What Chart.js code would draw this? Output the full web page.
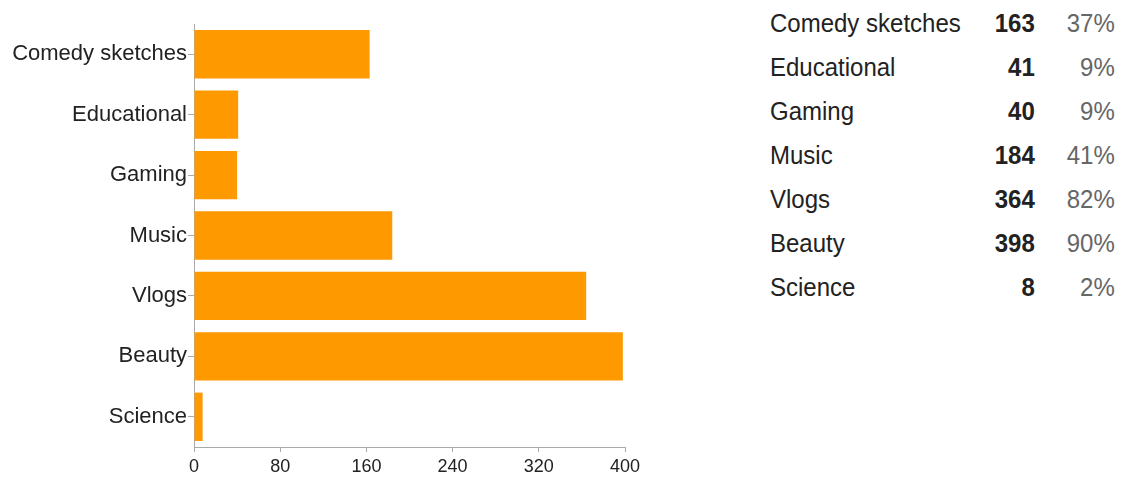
<!DOCTYPE html>
<html>
<head>
<meta charset="utf-8">
<script src="https://cdn.jsdelivr.net/npm/chart.js@4"></script>
<style>
  body { margin: 0; background: #fff; font-family: "Liberation Sans", Arial, sans-serif; }
  #wrap { position: absolute; left: 0; top: 0; width: 660px; height: 483px; }
  #summary { position: absolute; left: 770px; top: 1px; border-collapse: collapse; font-size: 24px; color: #222; }
  #summary td { height: 44px; padding: 0; white-space: nowrap; }
  #summary td.num { text-align: right; font-weight: bold; width: 74px; }
  #summary td.pct { text-align: right; color: #666; width: 80px; }
  #summary span { display: inline-block; transform: scaleY(1.08); }
</style>
</head>
<body>
<div id="wrap"><canvas id="chart"></canvas></div>
<table id="summary"></table>
<script>
// categories and counts
const categories = ['Comedy sketches', 'Educational', 'Gaming', 'Music', 'Vlogs', 'Beauty', 'Science'];
const counts = [163, 41, 40, 184, 364, 398, 8];
const percents = ['37%', '9%', '9%', '41%', '82%', '90%', '2%'];
const xTicks = [0, 80, 160, 240, 320, 400];

// summary table on the right
let rows = '';
categories.forEach((c, i) => {
  rows += `<tr><td><span>${c}</span></td><td class="num"><span>${counts[i]}</span></td><td class="pct"><span>${percents[i]}</span></td></tr>`;
});
document.getElementById('summary').innerHTML = rows;

const ctx = document.getElementById('chart').getContext('2d');
const chart = new Chart(ctx, {
  type: 'bar',
  data: {
    labels: categories,
    datasets: [{
      data: counts,
      backgroundColor: '#ff9900',
      categoryPercentage: 1,
      barPercentage: 0.8
    }]
  },
  options: {
    indexAxis: 'y',
    responsive: true,
    maintainAspectRatio: false,
    animation: false,
    layout: { padding: { top: 24, right: 35, left: 0, bottom: 0 } },
    plugins: { legend: { display: false }, tooltip: { enabled: false } },
    scales: {
      x: {
        min: 0,
        max: 400,
        afterBuildTicks: axis => { axis.ticks = xTicks.map(v => ({ value: v })); },
        afterFit: axis => { axis.height = 36; },
        grid: { drawOnChartArea: false, tickLength: 5, color: '#aaa' },
        border: { color: '#aaa' },
        ticks: { color: '#222', padding: 4, font: { family: 'Liberation Sans', size: 18 } }
      },
      y: {
        afterFit: axis => { axis.width = 194; },
        grid: { drawOnChartArea: false, offset: false, tickLength: 6, color: '#aaa' },
        border: { color: '#aaa' },
        ticks: { color: '#222', padding: 1, font: { family: 'Liberation Sans', size: 22 } }
      }
    }
  }
});
</script>
</body>
</html>
